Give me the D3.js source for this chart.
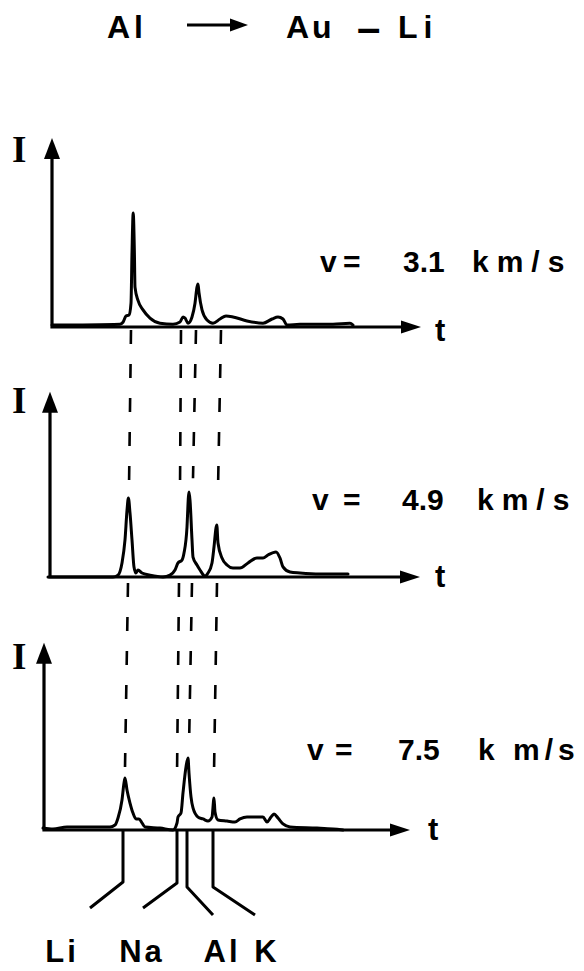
<!DOCTYPE html>
<html><head><meta charset="utf-8">
<script src="https://cdn.jsdelivr.net/npm/d3@7"></script>
<style>body{margin:0;background:#fff}svg{display:block}</style>
</head><body>
<script>
// ---------- data (t and I in arbitrary units) ----------
const titleFrom = "Al";
const titleTo = ["Au", "–", "Li"];
const velocities = ["3.1", "4.9", "7.5"];
const velUnits = ["km/s", "km/s", "k m/s"];
const ions = ["Li", "Na", "Al", "K"];

const trace1 = [[3,1],[20,1.5],[20.75,2.5],[21.5,5.8],[22.25,6.3],[22.75,12.5],[23,39],[23.3,60],[23.6,39],[23.75,21],[24.5,14],[25.75,9],[27.5,4.7],[30,2],[33.25,1.5],[35,2.6],[35.75,5.3],[36.25,4.7],[37,2],[38,5.3],[38.75,12.5],[39.25,21],[39.5,22.6],[39.75,18],[40.5,9],[41.75,3.7],[43.25,2],[45,4.2],[46.5,5.8],[48.25,5.3],[51.75,3.2],[55.75,2],[58,4.2],[59.5,5.3],[60.75,4.2],[61.75,1],[65,1.5],[70,1.5],[73.25,1.5],[77.5,2],[78.25,1]];
const trace2 = [[2,0],[18.25,0],[19.5,1],[20.5,7.4],[21.25,19.5],[21.75,35],[22.1,41.6],[22.5,33.7],[23,19.5],[23.5,5.3],[24,2.1],[24.5,3.7],[25.5,2.1],[27.5,1],[30.75,0],[32.5,1],[33.75,3.7],[34.5,7.4],[35.5,8.9],[36,12.6],[36.75,26.3],[37.1,42],[37.25,44.7],[37.5,40.5],[38,19.5],[38.25,10.5],[39.25,6.3],[40,3.7],[41.25,0.5],[42,2.1],[43,7.4],[43.5,15.8],[44,25.8],[44.2,27.4],[44.5,17.9],[45.5,10],[46.75,6.3],[48.25,4.7],[50,4.7],[52,7.4],[54.25,10],[55.75,10],[57,11.6],[59,13.2],[60,10],[60.75,5.3],[62.5,2.6],[65,2.1],[70,1.6],[77,1.6]];
const trace3 = [[0.75,1],[3.25,0.5],[6.75,1.6],[17.5,1.6],[18.75,2.6],[19.5,6.3],[20.5,15.8],[21,24.7],[21.25,27.4],[21.75,21],[22.5,14.2],[23.25,8.9],[24,5.8],[24.75,5.8],[25.5,3.7],[26.25,1.6],[30,1],[33.25,0],[34.25,3.7],[34.5,6.8],[35.25,8.9],[35.75,19.5],[36.5,33.2],[37,37.9],[37.25,30],[37.75,17.4],[38.25,11.6],[39.5,6.8],[40.75,5.8],[42,4.7],[43,6.8],[43.5,16.8],[43.75,9.5],[44.5,5.3],[46.75,4.7],[48.75,4.2],[50,5.8],[51.75,6.8],[55.75,6.8],[56.75,4.2],[57.75,6.8],[58.5,8.4],[59.5,6.3],[60.75,3.2],[62.5,1.6],[69.25,1],[73.25,0.5],[75.75,0]];

// ion arrival times marked by the dashed guide lines, per panel
const markT1 = [22.75, 35.25, 39, 45.25];
const markT2 = [22.25, 35, 38.25, 44.5];
const markT3 = [21.25, 34.25, 37.25, 43.5];
const dashEnd2 = [47, 46, 52, 46];
const dashEnd3 = [32.6, 27.9, 43.2, 30];
const leaderT = [20.75, 34.25, 36.75, 43.25];

// ---------- layout ----------
const W = 584, H = 971;
const FONT = "'Liberation Sans', Arial, sans-serif";
const panels = [
  {trace: trace1, base: 327, axisT: 3,   topI: 99.5, endT: 95.25, tX: 435, tY: 341, vY: 272, vX: [320, 343, 403, 472], IY: 162},
  {trace: trace2, base: 577, axisT: 2.5, topI: 97.5, endT: 95,    tX: 435, tY: 587, vY: 510, vX: [312, 343, 402, 477], IY: 413},
  {trace: trace3, base: 830, axisT: 1,   topI: 98.5, endT: 92.5,  tX: 428, tY: 840, vY: 760, vX: [307, 335, 398, 478], IY: 669}
];
const leaderLayout = {
  bendY: [882, 883, 887, 887],
  endX: [90, 143, 213, 255],
  endY: [908, 908, 915, 915],
  labelX: [62, 142, 222, 267],
  labelY: 962
};

const svg = d3.select("body").append("svg").attr("width", W).attr("height", H);
const x = d3.scaleLinear().domain([0, 100]).range([40, 440]);
panels.forEach(p => { p.y = d3.scaleLinear().domain([0, 100]).range([p.base, p.base - 190]); });

// ---------- title ----------
const tg = svg.append("g").attr("font-family", FONT).attr("font-weight", "bold").attr("font-size", 32).attr("fill", "#000");
tg.append("text").attr("x", 107).attr("y", 38).attr("letter-spacing", 4).text(titleFrom);
tg.append("line").attr("x1", 187).attr("y1", 25).attr("x2", 234).attr("y2", 25).attr("stroke", "#000").attr("stroke-width", 3);
tg.append("path").attr("d", "M230,18.5 L248,25 L230,31.5 Z").attr("fill", "#000");
tg.append("text").attr("x", 286).attr("y", 38).attr("letter-spacing", 3).text(titleTo[0]);
tg.append("text").attr("x", 357).attr("y", 42).attr("font-size", 42).text(titleTo[1]);
tg.append("text").attr("x", 398).attr("y", 38).attr("letter-spacing", 6).text(titleTo[2]);

// ---------- panels ----------
const line = d3.line().curve(d3.curveMonotoneX);
panels.forEach((p, i) => {
  const g = svg.append("g");
  const x0 = x(p.axisT), y0 = p.y(0), yTop = p.y(p.topI), xEnd = x(p.endT);
  // axes
  g.append("path").attr("d", `M${x0},${yTop + 16} L${x0},${y0} L${xEnd - 16},${y0}`)
    .attr("fill", "none").attr("stroke", "#000").attr("stroke-width", 3.2).attr("stroke-linejoin", "miter");
  g.append("path").attr("d", `M${x0},${yTop} L${x0 + 8},${yTop + 21} L${x0 - 8},${yTop + 21} Z`).attr("fill", "#000");
  g.append("path").attr("d", `M${xEnd},${y0} L${xEnd - 20},${y0 - 6.5} L${xEnd - 20},${y0 + 6.5} Z`).attr("fill", "#000");
  // trace
  g.append("path").datum(p.trace)
    .attr("d", line.x(d => x(d[0])).y(d => p.y(d[1])))
    .attr("fill", "none").attr("stroke", "#000").attr("stroke-width", 3)
    .attr("stroke-linejoin", "round").attr("stroke-linecap", "round");
  // labels
  g.append("text").attr("x", 12).attr("y", p.IY).attr("font-family", "'Liberation Serif', serif")
    .attr("font-weight", "bold").attr("font-size", 37).text("I");
  g.append("text").attr("x", p.tX).attr("y", p.tY).attr("font-family", FONT)
    .attr("font-weight", "bold").attr("font-size", 31).text("t");
  const vt = g.append("g").attr("font-family", FONT).attr("font-weight", "bold").attr("font-size", 30);
  vt.append("text").attr("x", p.vX[0]).attr("y", p.vY).text("v");
  vt.append("text").attr("x", p.vX[1]).attr("y", p.vY).text("=");
  vt.append("text").attr("x", p.vX[2]).attr("y", p.vY).attr("letter-spacing", 0).text(velocities[i]);
  vt.append("text").attr("x", p.vX[3]).attr("y", p.vY).attr("letter-spacing", i === 2 ? 5 : 8).text(velUnits[i]);
});

// ---------- dashed guide lines ----------
const [p1, p2, p3] = panels;
const seg = d3.line();
ions.forEach((ion, i) => {
  const segs = [
    [[x(markT1[i]), p1.y(0) + 3], [x(markT2[i]), p2.y(dashEnd2[i])]],
    [[x(markT2[i]) - 1, p2.y(0) + 6], [x(markT3[i]), p3.y(dashEnd3[i])]]
  ];
  segs.forEach(s => svg.append("path").attr("d", seg(s)).attr("fill", "none")
    .attr("stroke", "#000").attr("stroke-width", 2.6).attr("stroke-dasharray", "14,20"));
});

// ---------- leader lines and ion labels ----------
ions.forEach((ion, i) => {
  const lx = x(leaderT[i]);
  svg.append("path")
    .attr("d", seg([[lx, p3.y(0)], [lx, leaderLayout.bendY[i]], [leaderLayout.endX[i], leaderLayout.endY[i]]]))
    .attr("fill", "none").attr("stroke", "#000").attr("stroke-width", 3).attr("stroke-linejoin", "round");
  svg.append("text").attr("x", leaderLayout.labelX[i]).attr("y", leaderLayout.labelY)
    .attr("text-anchor", "middle").attr("font-family", FONT).attr("font-weight", "bold")
    .attr("font-size", 31).attr("letter-spacing", 3).text(ion);
});
</script>
</body></html>
